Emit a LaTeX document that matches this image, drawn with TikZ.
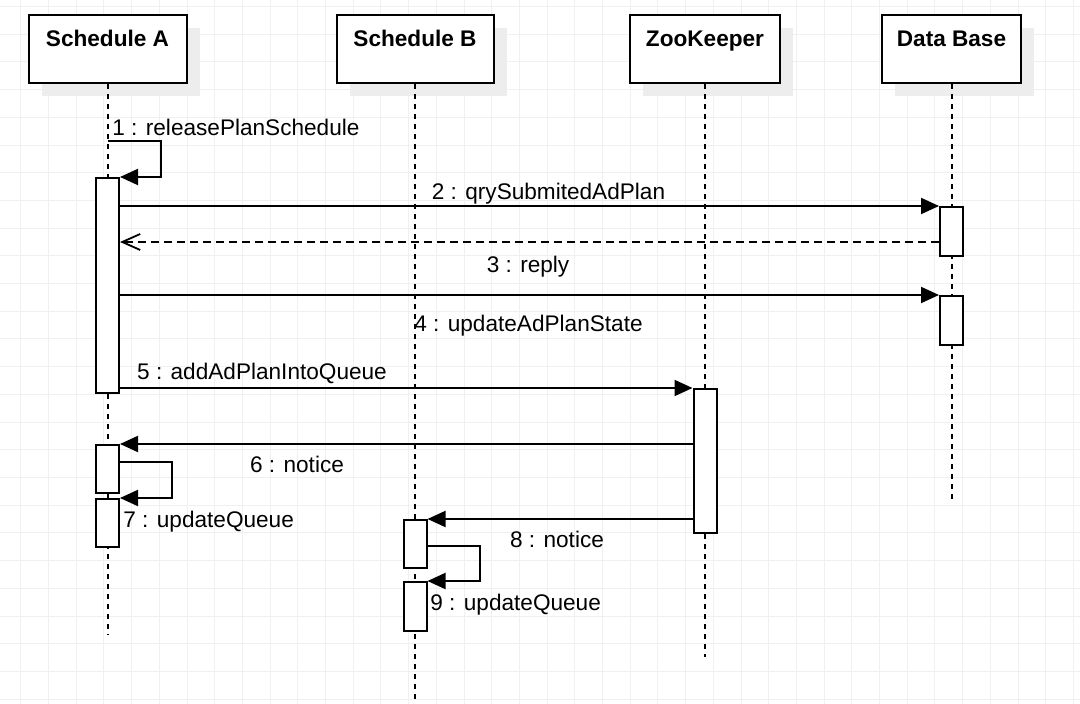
\documentclass[tikz,border=0pt]{standalone}
\usepackage{fontspec}
\setmainfont{Liberation Sans}
\usetikzlibrary{arrows.meta,shadows}

\tikzset{
  gridline/.style={draw=black!6, line width=0.5pt},
  lifehead/.style={draw, line width=1pt, fill=white, inner sep=0pt, minimum height=34pt,
    drop shadow={shadow xshift=6.5pt, shadow yshift=-6.5pt, fill=black!7, opacity=1, draw=none}},
  lifetext/.style={inner sep=0pt, text height=8.1pt, text depth=0pt, font=\bfseries\fontsize{11.3}{13.6}\selectfont},
  lifeline/.style={line width=1pt, dash pattern=on 2.5pt off 2.5pt},
  actbar/.style={draw, line width=1pt, fill=white, inner sep=0pt, minimum width=11.5pt, anchor=north},
  callmsg/.style={line width=1pt, -{Triangle[length=9pt,width=8pt]}},
  replymsg/.style={line width=0.9pt, dash pattern=on 4pt off 2.5pt, -{Straight Barb[length=9pt,width=8pt]}},
  msglabel/.style={inner sep=0pt, text height=8.1pt, text depth=0pt, font=\fontsize{11.3}{13.6}\selectfont}
}

\begin{document}
\begin{tikzpicture}[x=0.5pt, y=-0.5pt]
  \useasboundingbox (0,0) rectangle (1080,704);
  \fill[white] (0,0) rectangle (1080,704);
  % background grid
  \foreach \gx in {20.8,48.5,...,1080} \draw[gridline] (\gx,0) -- (\gx,704);
  \foreach \gy in {6.6,34.3,...,704} \draw[gridline] (0,\gy) -- (1080,\gy);

  % heads
  \node[lifehead, minimum width=79pt] (schA) at (107.5,49) {};
  \node[lifehead, minimum width=78.5pt] (schB) at (415,49) {};
  \node[lifehead, minimum width=75pt] (zoo) at (705,49) {};
  \node[lifehead, minimum width=69.5pt] (db) at (951.5,49) {};
  \node[lifetext] (schAtxt) at (107.5,38) {Schedule A};
  \node[lifetext] (schBtxt) at (415,38) {Schedule B};
  \node[lifetext] (zootxt) at (705,38) {ZooKeeper};
  \node[lifetext] (dbtxt) at (951.5,38) {Data Base};

  % lifelines
  \coordinate (schAend) at (107.5,635);
  \coordinate (schBend) at (415,700);
  \coordinate (zooend) at (705,657);
  \coordinate (dbend) at (951.5,500);
  \draw[lifeline] (schA.south) -- (schAend);
  \draw[lifeline] (schB.south) -- (schBend);
  \draw[lifeline] (zoo.south) -- (zooend);
  \draw[lifeline] (db.south) -- (dbend);

  % activation bars
  \node[actbar, minimum height=107.5pt] (a1) at (107.5,177) {};
  \node[actbar, minimum height=24.5pt] (db1) at (951.5,206) {};
  \node[actbar, minimum height=24.5pt] (db2) at (951.5,295) {};
  \node[actbar, minimum height=72pt] (zk1) at (705,388) {};
  \node[actbar, minimum height=24pt] (a2) at (107.5,444) {};
  \node[actbar, minimum height=24pt] (a3) at (107.5,498) {};
  \node[actbar, minimum height=24pt] (b1) at (415,519) {};
  \node[actbar, minimum height=24.5pt] (b2) at (415,581) {};

  % messages
  \coordinate (m1) at (107.5,141);
  \draw[callmsg] (m1) -- ++(53.5,0) |- (a1.north east);
  \node[msglabel, anchor=west] (l1) at (112,127.5) {1 : releasePlanSchedule};

  \draw[callmsg] (a1.east |- db1.north west) -- (db1.north west);
  \node[msglabel] (l2) at (548.5,191) {2 : qrySubmitedAdPlan};

  \draw[replymsg] (db1.west |- 0,242) -- (a1.east |- 0,242);
  \node[msglabel] (l3) at (528,264) {3 : reply};

  \draw[callmsg] (a1.east |- db2.north west) -- (db2.north west);
  \node[msglabel] (l4) at (528.5,323) {4 : updateAdPlanState};

  \draw[callmsg] (a1.east |- zk1.north west) -- (zk1.north west);
  \node[msglabel] (l5) at (262,371) {5 : addAdPlanIntoQueue};

  \draw[callmsg] (zk1.west |- a2.north east) -- (a2.north east);
  \node[msglabel] (l6) at (297,464) {6 : notice};

  \draw[callmsg] (a2.east |- 0,462.5) -- ++(52,0) |- (a3.north east);
  \node[msglabel, anchor=west] (l7) at (123,519) {7 : updateQueue};

  \draw[callmsg] (zk1.west |- b1.north east) -- (b1.north east);
  \node[msglabel] (l8) at (557,539) {8 : notice};

  \draw[callmsg] (b1.east |- 0,546.5) -- ++(52,0) |- (b2.north east);
  \node[msglabel, anchor=west] (l9) at (430,602.5) {9 : updateQueue};
\end{tikzpicture}
\end{document}
